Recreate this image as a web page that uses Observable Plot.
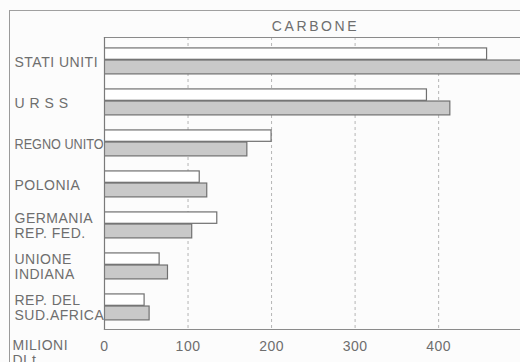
<!DOCTYPE html>
<html>
<head>
<meta charset="utf-8">
<script src="https://cdn.jsdelivr.net/npm/d3@7"></script>
<script src="https://cdn.jsdelivr.net/npm/@observablehq/plot@0.6"></script>
<style>
  html, body { margin: 0; padding: 0; background: #fcfcfc; overflow: hidden; }
  #wrap { position: relative; width: 520px; height: 362px; }
  #outer { position: absolute; left: 9px; top: 10px; width: 600px; height: 400px;
           border-left: 1.5px solid #9a9a9a; border-top: 1.5px solid #a0a0a0; pointer-events: none; }
  svg { position: absolute; left: 0; top: 0; background: transparent; }
  svg text { letter-spacing: 0.5px; }
</style>
</head>
<body>
<div id="wrap"><div id="outer"></div></div>
<script>
const title = "CARBONE";
const countries = ["STATI UNITI", "URSS", "REGNO UNITO", "POLONIA", "GERMANIA REP. FED.", "UNIONE INDIANA", "REP. DEL SUD. AFRICA"];
const countryLabels = ["STATI UNITI", "U R S S", "REGNO UNITO", "POLONIA", "GERMANIA\nREP. FED.", "UNIONE\nINDIANA", "REP. DEL\nSUD.AFRICA"];
const seriesWhite = [458, 386, 200, 114, 135, 66, 48];
const seriesGray = [520, 414, 171, 123, 105, 76, 54];
const xTicks = [0, 100, 200, 300, 400];
const xTickLabels = ["0", "100", "200", "300", "400"];
const unitLabel = "MILIONI\nDI t.";

const W = 520, H = 362, mt = 37, mb = 33, ml = 104, mr = 0;
const bw = (H - mt - mb) / countries.length;

const dataWhite = countries.map((c, i) => ({country: c, value: seriesWhite[i]}));
const dataGray = countries.map((c, i) => ({country: c, value: seriesGray[i]}));
const labelOf = new Map(countries.map((c, i) => [c, countryLabels[i]]));
const tickLabelOf = new Map(xTicks.map((t, i) => [t, xTickLabels[i]]));

const ink = "#6e6e6e";
const chart = Plot.plot({
  width: W, height: H,
  marginTop: mt, marginBottom: mb, marginLeft: ml, marginRight: mr,
  style: {fontFamily: "'Liberation Sans', Arial, sans-serif", fontSize: "14px", color: ink, background: "transparent"},
  x: {domain: [0, 498], axis: null, label: null},
  y: {domain: countries, padding: 0, axis: null, label: null},
  marks: [
    Plot.ruleX(xTicks.slice(1), {stroke: "#b5b5b5", strokeDasharray: "3,3", strokeWidth: 1}),
    Plot.barX(dataWhite, {y: "country", x: "value", fill: "#ffffff", stroke: "#707070", strokeWidth: 1.2,
      insetTop: bw * 0.19, insetBottom: bw * 0.52, clip: true}),
    Plot.barX(dataGray, {y: "country", x: "value", fill: "#c9c9c9", stroke: "#707070", strokeWidth: 1.2,
      insetTop: bw * 0.48, insetBottom: bw * 0.17, clip: true}),
    Plot.frame({anchor: "top", stroke: "#8a8a8a", strokeWidth: 1.2}),
    Plot.frame({anchor: "left", stroke: "#7a7a7a", strokeWidth: 1.2}),
    Plot.frame({anchor: "bottom", stroke: "#8a8a8a", strokeWidth: 1.2}),
    Plot.axisY({label: null, tickSize: 0, tickPadding: 0, textAnchor: "start", dx: -90, dy: 1,
      tickFormat: d => labelOf.get(d), fill: ink, fontSize: 14, lineHeight: 1.05}),
    Plot.axisX(xTicks, {label: null, anchor: "bottom", tickSize: 0, tickPadding: 12, tickFormat: d => tickLabelOf.get(d),
      fill: ink, fontSize: 14}),
    Plot.text([unitLabel], {frameAnchor: "bottom-left", textAnchor: "start", lineAnchor: "top",
      dx: -92, dy: 9, fill: ink, fontSize: 14, lineHeight: 1.12}),
    Plot.text([title], {frameAnchor: "top", lineAnchor: "bottom", dx: 3, dy: -7, fill: ink, fontSize: 14})
  ]
});
d3.select(chart).selectAll("text").filter(function() { return this.textContent === title; })
  .style("letter-spacing", "2.6px");
// the hand-lettered "REGNO UNITO" is squeezed to end at the plot's left edge
d3.select(chart).selectAll("text").filter(function() { return this.textContent === countryLabels[2]; })
  .style("letter-spacing", "0px").attr("textLength", 89).attr("lengthAdjust", "spacingAndGlyphs");
document.getElementById("wrap").insertBefore(chart, document.getElementById("outer"));
</script>
</body>
</html>
